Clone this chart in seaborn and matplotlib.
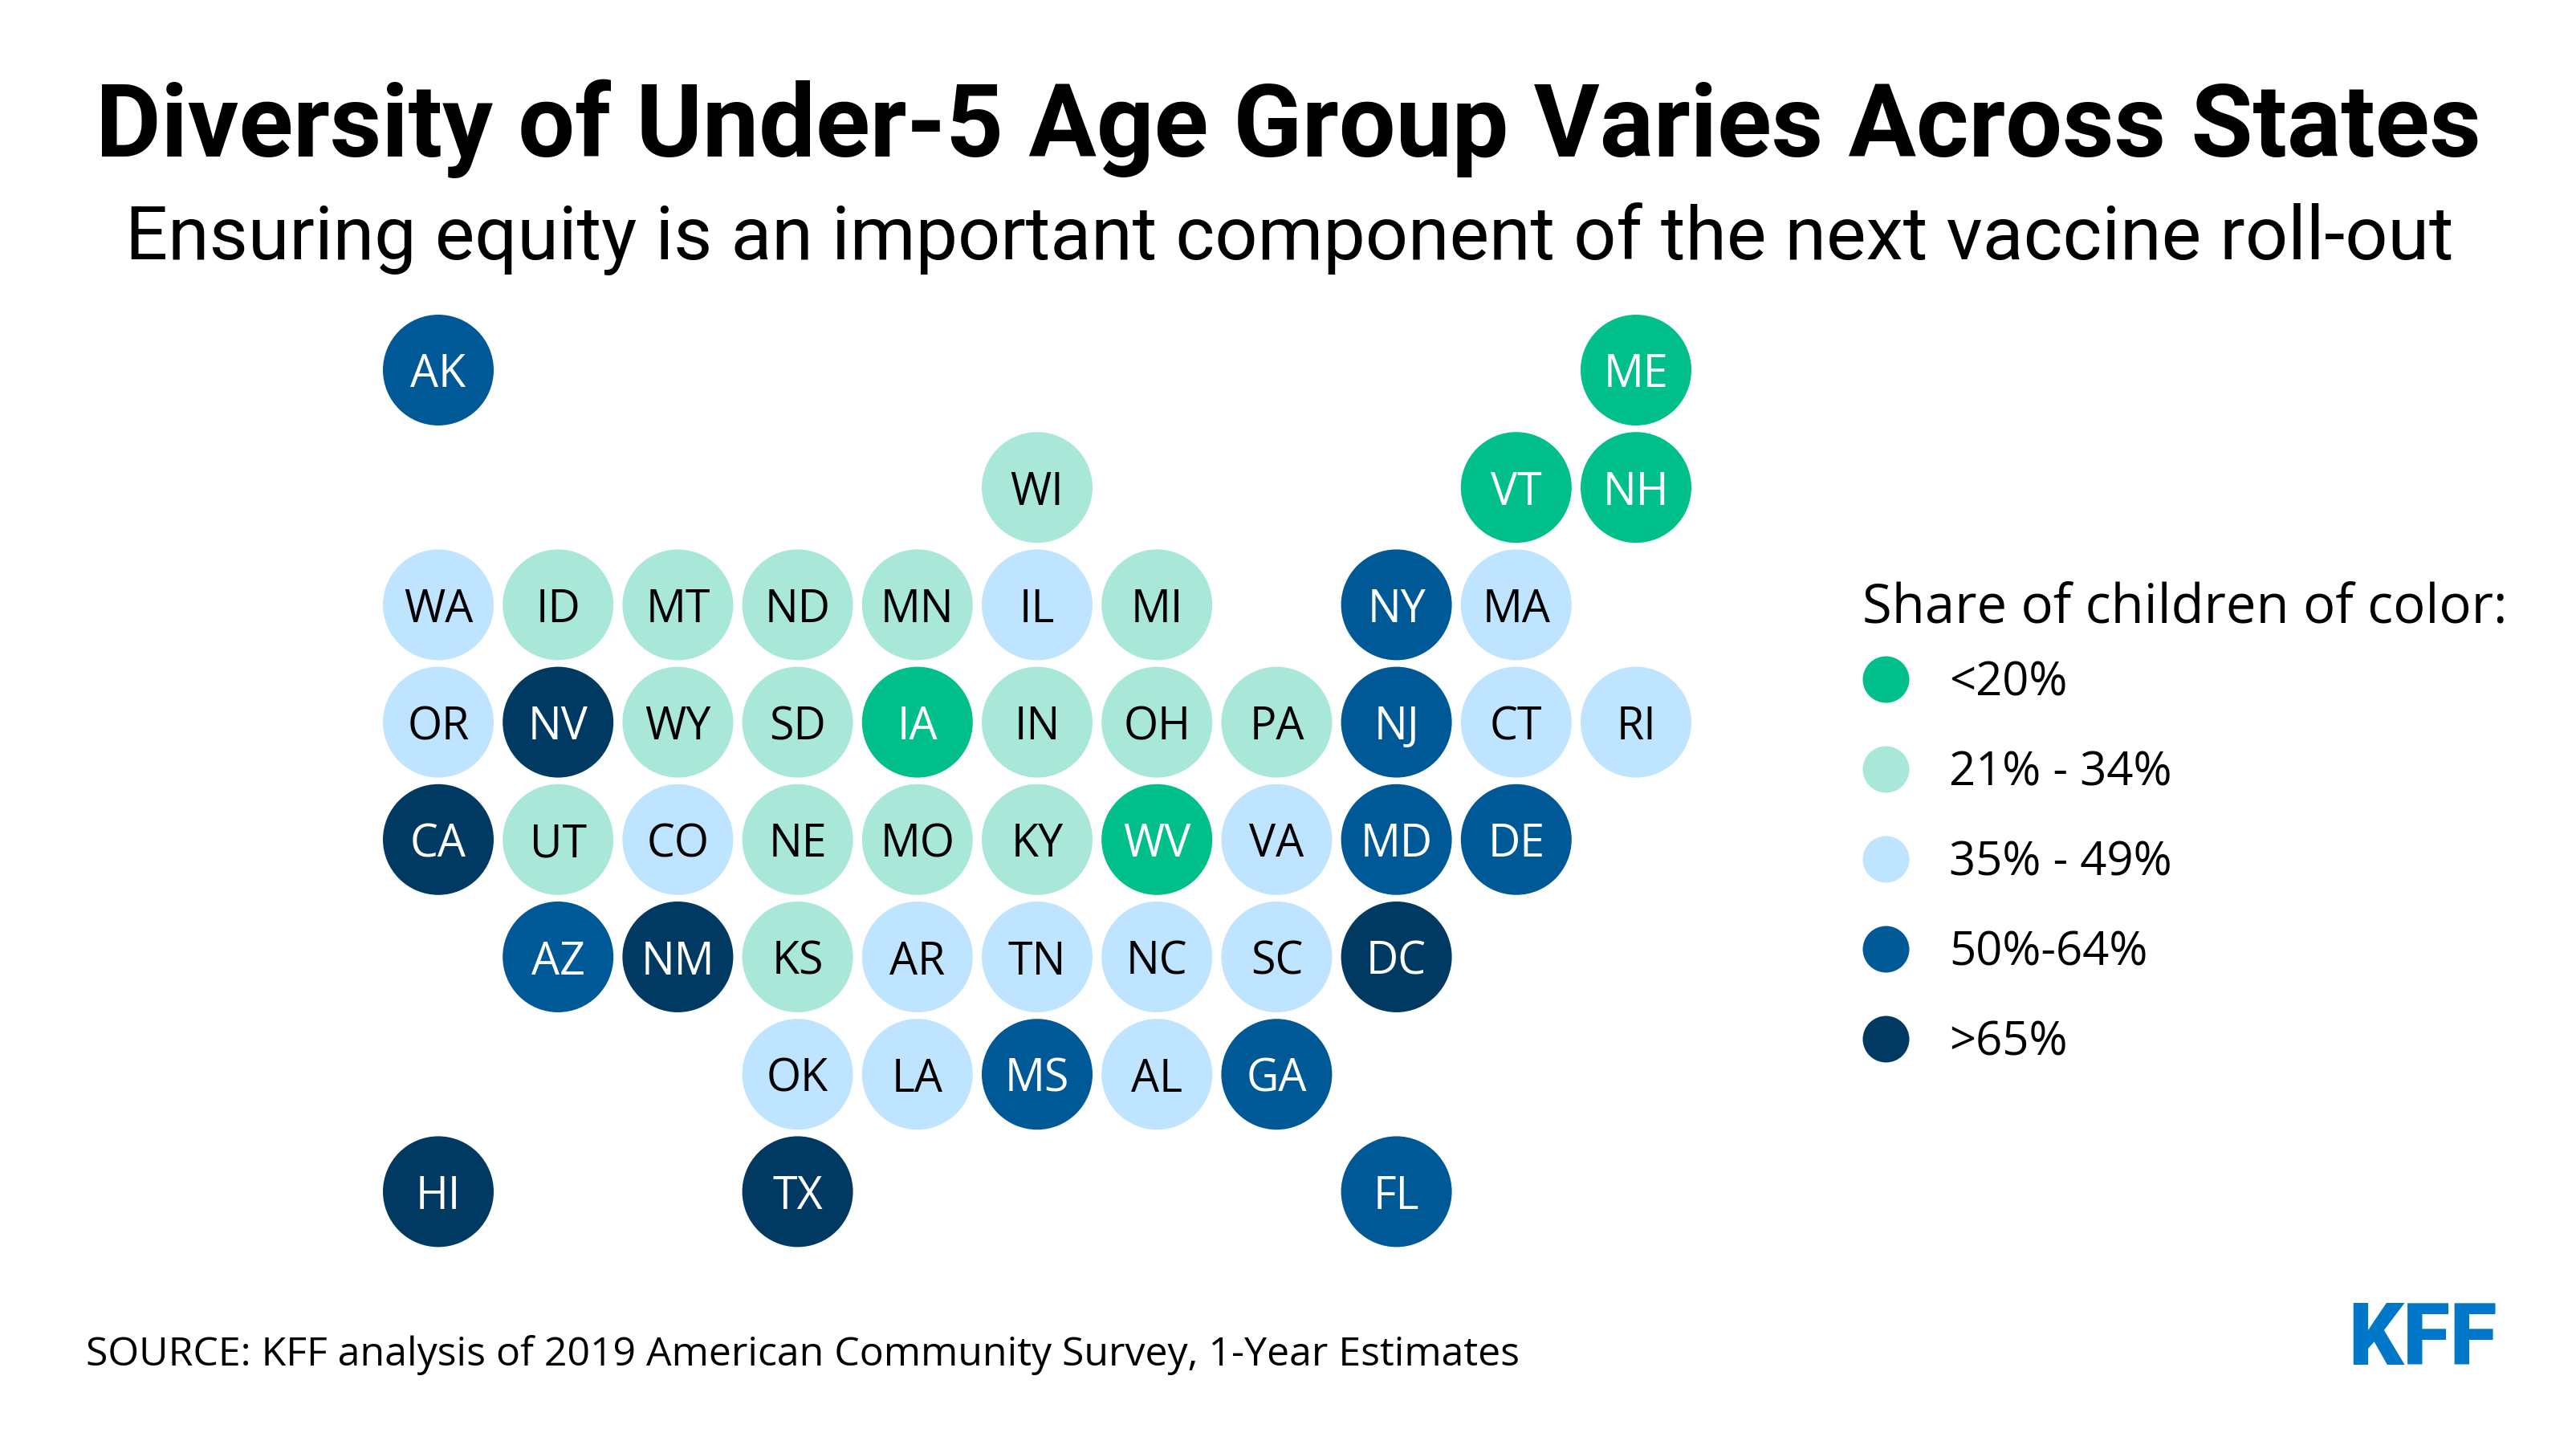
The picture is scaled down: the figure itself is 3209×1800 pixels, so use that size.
"""
Tile map of the share of children of color under age 5, by state
"""

import matplotlib
matplotlib.use("Agg")
import matplotlib.pyplot as plt
from matplotlib.lines import Line2D
import pandas as pd
import seaborn as sns

# ==========================================
# Data
# ==========================================
TITLE = "Diversity of Under-5 Age Group Varies Across States"
SUBTITLE = "Ensuring equity is an important component of the next vaccine roll-out"
SOURCE = "SOURCE: KFF analysis of 2019 American Community Survey, 1-Year Estimates"
LEGEND_TITLE = "Share of children of color:"

# tile map, one string per row, "." = empty tile
tile_rows = [
    "AK . . . . . . . . . ME",
    ". . . . . WI . . . VT NH",
    "WA ID MT ND MN IL MI . NY MA .",
    "OR NV WY SD IA IN OH PA NJ CT RI",
    "CA UT CO NE MO KY WV VA MD DE .",
    ". AZ NM KS AR TN NC SC DC . .",
    ". . . OK LA MS AL GA . . .",
    "HI . . TX . . . . FL . .",
]

share_labels = ["<20%", "21% - 34%", "35% - 49%", "50%-64%", ">65%"]
share_states = [
    ["ME", "VT", "NH", "IA", "WV"],
    ["WI", "ID", "MT", "ND", "MN", "MI", "WY", "SD", "IN", "OH", "PA", "UT", "NE", "MO", "KY", "KS"],
    ["WA", "IL", "MA", "OR", "CT", "RI", "CO", "VA", "AR", "TN", "NC", "SC", "OK", "LA", "AL"],
    ["AK", "NY", "NJ", "MD", "DE", "AZ", "MS", "GA", "FL"],
    ["NV", "CA", "NM", "DC", "HI", "TX"],
]
share_colors = ["#00BF8B", "#A9E8D8", "#BFE4FF", "#005997", "#003A63"]
text_colors = ["white", "black", "black", "white", "white"]

# ==========================================
# Build the table
# ==========================================
share_of = {s: lab for lab, states in zip(share_labels, share_states) for s in states}
records = []
for row, line in enumerate(tile_rows):
    for col, state in enumerate(line.split()):
        if state != ".":
            records.append({"state": state, "col": col, "row": row, "share": share_of[state]})
df = pd.DataFrame(records)

# ==========================================
# Figure
# ==========================================
W, H, DPI = 3209, 1800, 200
sns.set_theme(style="white")
plt.rcParams["font.family"] = ["Open Sans", "DejaVu Sans"]

fig = plt.figure(figsize=(W / DPI, H / DPI), dpi=DPI, facecolor="white")
ax = fig.add_axes([0, 0, 1, 1])

# tile 0,0 centre sits at x0,y0 px, tiles step by dx,dy px
x0, y0, dx, dy = 546, 461, 149.2, 146.2
ax.set_xlim(-x0 / dx, (W - x0) / dx)
ax.set_ylim((H - y0) / dy, -y0 / dy)
ax.axis("off")

diam = 138 * 72 / DPI
sns.scatterplot(data=df, x="col", y="row", hue="share", hue_order=share_labels,
                palette=share_colors, s=diam ** 2, linewidth=0, legend=False, ax=ax)

label_color = dict(zip(share_labels, text_colors))
for _, r in df.iterrows():
    ax.text(r["col"], r["row"], r["state"], ha="center", va="center_baseline",
            fontsize=20, color=label_color[r["share"]])

# legend
handles = [Line2D([], [], marker="o", linestyle="none", markersize=58 * 72 / DPI,
                  markerfacecolor=c, markeredgewidth=0, label=l)
           for c, l in zip(share_colors, share_labels)]
leg = ax.legend(handles=handles, title=LEGEND_TITLE, loc="upper left",
                bbox_to_anchor=(2320 / W, 1 - 724 / H), bbox_transform=fig.transFigure,
                frameon=False, alignment="left", fontsize=20.9, title_fontsize=24.1,
                labelspacing=0.92, handlelength=1.0, handletextpad=0.86,
                borderpad=0, borderaxespad=0, labelcolor="black")
leg.get_title().set_color("black")
# title sits closer to the entries than labelspacing allows
leg._legend_box.sep = 11


def px_text(x, y, s, **kw):
    fig.text(x / W, 1 - y / H, s, va="baseline", **kw)


px_text(1605, 195, TITLE, ha="center", fontsize=45.2, fontweight="bold", family="Roboto", color="black")
px_text(1606, 323, SUBTITLE, ha="center", fontsize=33.6, family="Roboto", color="black")
px_text(107, 1701, SOURCE, ha="left", fontsize=18, color="black")
px_text(2925, 1700, "KFF", ha="left", fontsize=38.5, family="Roboto", fontweight="black", color="#0077C8")

fig.savefig("out.png", dpi=DPI)
